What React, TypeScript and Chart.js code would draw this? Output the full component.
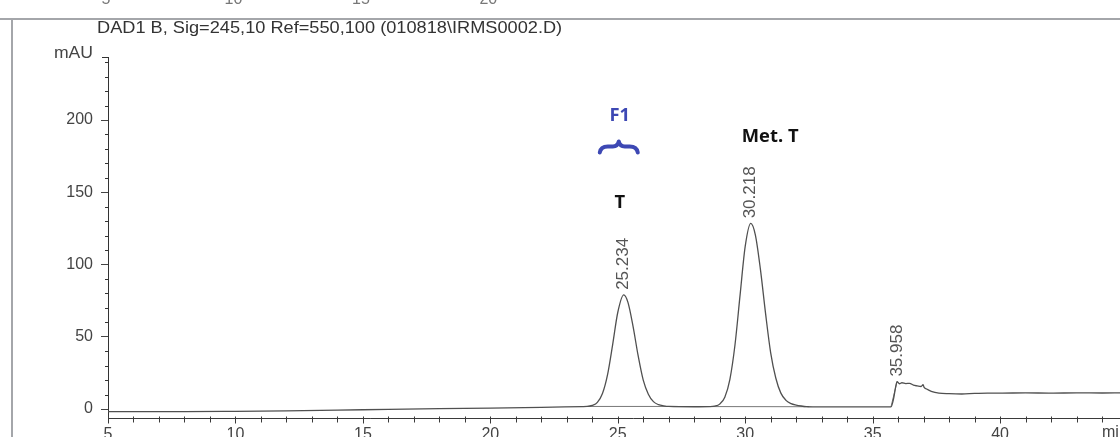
import { useEffect, useRef } from 'react';
import { Chart, registerables } from 'chart.js';

Chart.register(...registerables);

// ---- data ----
const signalTimes = [
  5, 8, 10, 12, 14, 16, 18, 20, 22, 23.6, 23.8, 24.0, 24.2, 24.4, 24.6, 24.8, 25.0, 25.234,
  25.4, 25.6, 25.8, 26.0, 26.2, 26.4, 26.6, 26.8, 27.0, 28.0, 28.6, 28.8, 29.0, 29.2, 29.4,
  29.6, 29.8, 30.0, 30.218, 30.4, 30.6, 30.8, 31.0, 31.2, 31.4, 31.6, 31.8, 32.0, 32.2, 32.4,
  33.0, 35.0, 35.72, 35.82, 35.9, 35.958, 36.05, 36.15, 36.3, 36.45, 36.6, 36.75, 36.9, 36.98,
  37.02, 37.1, 37.3, 37.6, 38.0, 38.5, 39.0, 39.5, 40.0, 41.0, 42.0, 43.0, 44.0, 45.0, 46.3,
];
const signalValues = [
  -1.8, -1.8, -1.6, -1.3, -0.8, -0.2, 0.3, 0.7, 1.2, 1.7, 1.8, 2.5, 4.6, 10.7, 23.8, 44.6, 66.8, 79,
  73.8, 57.2, 36.9, 20.0, 10.3, 5.1, 3.0, 2.2, 1.8, 1.6, 1.7, 2.0, 3.4, 8.2, 20.6,
  44.5, 79, 112.5, 128.5, 120.4, 96.3, 66, 38.9, 21.5, 11, 6, 3.7, 2.7, 2.1, 1.7,
  1.5, 1.5, 1.5, 7, 15, 19, 17.5, 18.2, 17.6, 17.8, 16.5, 16, 15.6, 16.8,
  15, 14, 12.3, 11, 10.6, 10.4, 10.8, 11, 11, 11.2, 11, 11.2, 11.1, 11.2, 11.2,
];
const baselineTimes = [23.8, 26.9, 27.5, 28.7, 32.5, 33.5, 35.72, 35.958];
const baselineValues = [1.8, 1.8, null, 1.7, 1.6, null, 1.5, 19];

const peakTimes = [25.234, 30.218, 35.958];
const peakHeights = [79, 128.5, 19];
const peakLabels = ['25.234', '30.218', '35.958'];

const xTickValues = [5, 6, 7, 8, 9, 10, 11, 12, 13, 14, 15, 16, 17, 18, 19, 20, 21, 22, 23, 24, 25, 26, 27, 28, 29, 30, 31, 32, 33, 34, 35, 36, 37, 38, 39, 40, 41, 42, 43, 44, 45, 46];
const xLabelValues = [5, 10, 15, 20, 25, 30, 35, 40];
const yTickValues = [0, 50, 100, 150, 200];
const yMinorValues = [10, 20, 30, 40, 60, 70, 80, 90, 110, 120, 130, 140, 160, 170, 180, 190, 210, 220, 230, 240];

const titleText = 'DAD1 B, Sig=245,10 Ref=550,100 (010818\\IRMS0002.D)';
const yUnit = 'mAU';
const xUnit = 'min';

const CW = 1160;
const CH = 470;
const FONT = 'Arial, "Liberation Sans", sans-serif';

const decor = {
  id: 'decor',
  afterDraw(chart: any) {
    const ctx = chart.ctx;
    const xs = chart.scales.x;
    const ys = chart.scales.y;
    const area = chart.chartArea;
    ctx.save();

    // scan frame lines
    ctx.strokeStyle = '#a4a6aa';
    ctx.lineWidth = 2;
    ctx.beginPath();
    ctx.moveTo(0, 19);
    ctx.lineTo(CW, 19);
    ctx.moveTo(12, 19);
    ctx.lineTo(12, CH);
    ctx.stroke();

    // cut-off fragments of upper axis labels
    ctx.fillStyle = '#777';
    ctx.font = `16px ${FONT}`;
    ctx.textAlign = 'center';
    ctx.textBaseline = 'alphabetic';
    ['5', '10', '15', '20'].forEach((t, i) => {
      ctx.fillText(t, xs.getPixelForValue(5 + i * 5) - 2, 4);
    });

    // title
    ctx.fillStyle = '#333';
    ctx.font = `17px ${FONT}`;
    ctx.textAlign = 'left';
    ctx.textBaseline = 'middle';
    ctx.save();
    ctx.translate(97, 28);
    ctx.scale(1.07, 1);
    ctx.fillText(titleText, 0, 0);
    ctx.restore();

    // y unit
    ctx.fillStyle = '#444';
    ctx.font = `16px ${FONT}`;
    ctx.save();
    ctx.translate(93, 54);
    ctx.scale(1.1, 1);
    ctx.textAlign = 'right';
    ctx.fillText(yUnit, 0, 0);
    ctx.restore();

    // x unit
    ctx.textAlign = 'left';
    ctx.textBaseline = 'top';
    ctx.fillText(xUnit, xs.getPixelForValue(44.0), area.bottom + 7);

    // y axis top stub and minor ticks
    ctx.strokeStyle = '#333';
    ctx.lineWidth = 1;
    ctx.beginPath();
    ctx.moveTo(area.left - 6, area.top + 0.5);
    ctx.lineTo(area.left, area.top + 0.5);
    yMinorValues.forEach((v) => {
      const py = Math.round(ys.getPixelForValue(v)) + 0.5;
      ctx.moveTo(area.left - 3, py);
      ctx.lineTo(area.left, py);
    });
    ctx.stroke();

    // x axis line and ticks (explicitly, on top)
    ctx.strokeStyle = '#3a3a3a';
    ctx.lineWidth = 1;
    ctx.beginPath();
    const ay = Math.round(area.bottom) + 0.5;
    ctx.moveTo(area.left, ay);
    ctx.lineTo(area.right, ay);
    xTickValues.forEach((v) => {
      const px = Math.round(xs.getPixelForValue(v)) + 0.5;
      const long = xLabelValues.includes(v);
      ctx.moveTo(px, ay - 2);
      ctx.lineTo(px, ay + (long ? 5 : 4));
    });
    ctx.stroke();

    // peak retention-time labels
    ctx.fillStyle = '#555';
    ctx.font = `17px ${FONT}`;
    ctx.textAlign = 'left';
    ctx.textBaseline = 'middle';
    peakTimes.forEach((t, i) => {
      const px = xs.getPixelForValue(t);
      const py = ys.getPixelForValue(peakHeights[i]);
      ctx.save();
      ctx.translate(px, py - 5);
      ctx.rotate(-Math.PI / 2);
      ctx.fillText(peakLabels[i], 0, 0);
      ctx.restore();
    });

    // annotations
    const drawText = (text: string, tx: number, ty: number, color: string) => {
      ctx.save();
      ctx.fillStyle = color;
      ctx.font = `bold 17px "Open Sans", sans-serif`;
      ctx.textAlign = 'center';
      ctx.textBaseline = 'middle';
      ctx.translate(xs.getPixelForValue(tx), ys.getPixelForValue(ty));
      ctx.scale(1.08, 1);
      ctx.fillText(text, 0, 0);
      ctx.restore();
    };
    const blue = '#3d48b4';
    drawText('F1', 25.08, 203, blue);
    drawText('T', 25.08, 142.5, '#111');
    drawText('Met. T', 30.98, 188, '#111');

    // brace
    const bx = xs.getPixelForValue(25.04);
    const by = ys.getPixelForValue(181);
    ctx.strokeStyle = blue;
    ctx.lineWidth = 4;
    ctx.lineCap = 'round';
    ctx.lineJoin = 'round';
    ctx.beginPath();
    ctx.moveTo(bx - 19, by + 5);
    ctx.quadraticCurveTo(bx - 18, by - 1, bx - 11, by - 1);
    ctx.lineTo(bx - 6, by - 1);
    ctx.quadraticCurveTo(bx - 1, by - 1, bx, by - 6);
    ctx.quadraticCurveTo(bx + 1, by - 1, bx + 6, by - 1);
    ctx.lineTo(bx + 11, by - 1);
    ctx.quadraticCurveTo(bx + 18, by - 1, bx + 19, by + 5);
    ctx.stroke();

    ctx.restore();
  },
};

export default function App() {
  const ref = useRef<HTMLCanvasElement | null>(null);

  useEffect(() => {
    if (!ref.current) return;
    const signal = signalTimes.map((t, i) => ({ x: t, y: signalValues[i] }));
    const base = baselineTimes.map((t, i) => ({ x: t, y: baselineValues[i] }));
    const pxPerMin = 25.5;
    const left = 108;
    const xMax = 5 + (CW - left) / pxPerMin;
    const chart = new Chart(ref.current, {
      type: 'line',
      data: {
        datasets: [
          {
            data: signal as any,
            borderColor: '#505050',
            borderWidth: 1.3,
            pointRadius: 0,
            cubicInterpolationMode: 'monotone',
            fill: false,
          },
          {
            data: base as any,
            borderColor: '#777',
            borderWidth: 1,
            pointRadius: 0,
            spanGaps: false,
            fill: false,
          },
        ],
      },
      options: {
        animation: false,
        responsive: false,
        maintainAspectRatio: false,
        events: [],
        layout: { padding: { left: 0, top: 57, right: 0, bottom: 0 } },
        plugins: { legend: { display: false }, tooltip: { enabled: false }, title: { display: false } },
        scales: {
          x: {
            type: 'linear',
            min: 5,
            max: xMax,
            afterBuildTicks: (s: any) => {
              s.ticks = xTickValues.map((v) => ({ value: v }));
            },
            afterFit: (s: any) => {
              s.height = CH - 418;
            },
            grid: { display: false, drawOnChartArea: false, drawTicks: false, tickLength: 6 },
            border: { display: false },
            ticks: {
              autoSkip: false,
              maxRotation: 0,
              padding: 7,
              color: '#444',
              font: { family: FONT, size: 16 },
              callback: (v: any) => (xLabelValues.includes(Number(v)) ? String(v) : ''),
            },
          },
          y: {
            type: 'linear',
            min: -6.2,
            max: 243.6,
            afterBuildTicks: (s: any) => {
              s.ticks = yTickValues.map((v) => ({ value: v }));
            },
            afterFit: (s: any) => {
              s.width = left;
            },
            grid: { drawOnChartArea: false, drawTicks: true, tickLength: 7, color: '#444' },
            border: { display: true, color: '#333', width: 1 },
            ticks: {
              padding: 8,
              color: '#444',
              font: { family: FONT, size: 16 },
              callback: (v: any) => String(v),
            },
          },
        },
      },
      plugins: [decor],
    });
    return () => chart.destroy();
  }, []);

  return (
    <div style={{ position: 'fixed', left: 0, top: 0, width: CW, height: CH, background: '#fff' }}>
      <canvas ref={ref} width={CW} height={CH} style={{ width: CW, height: CH, display: 'block' }} />
    </div>
  );
}
